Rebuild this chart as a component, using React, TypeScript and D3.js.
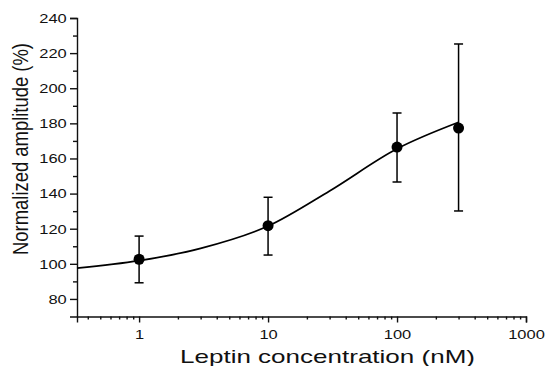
import { useEffect, useRef } from "react"
import * as d3 from "d3"

// measured points (mean, SEM bounds)
const concentrations = [1, 10, 100, 300]
const amplitudes = [102.6, 121.7, 166.5, 177.3]
const errLow = [89.2, 105, 146.6, 130.1]
const errHigh = [115.8, 137.9, 185.9, 225.2]

// fitted curve
const fitConc = [0.33, 1, 3, 10, 30, 100, 300]
const fitAmp = [97.5, 101.8, 108.8, 121.5, 141.5, 165.5, 180.6]

const yMajor = [80, 100, 120, 140, 160, 180, 200, 220, 240]
const yMinor = [90, 110, 130, 150, 170, 190, 210, 230]
const xMajor = [1, 10, 100, 1000]
const xMinor = [0.4, 0.5, 0.6, 0.7, 0.8, 0.9, 2, 3, 4, 5, 6, 7, 8, 9, 20, 30, 40, 50, 60, 70, 80, 90, 200, 300, 400, 500, 600, 700, 800, 900]

const FONT = "'Liberation Sans', Arial, Helvetica, sans-serif"
const STRETCH = 1.22

export default function App() {
  const svgRef = useRef<SVGSVGElement>(null)

  useEffect(() => {
    if (!svgRef.current) return
    const svg = d3.select(svgRef.current)
    svg.selectAll("*").remove()

    const x = d3.scaleLog().domain([0.33, 1000]).range([77, 526])
    const y = d3.scaleLinear().domain([70, 240]).range([316.5, 18])

    // Y axis
    const yAxis = svg.append("g").attr("transform", `translate(${x.range()[0]},0)`)
    yAxis
      .call(d3.axisLeft(y).tickValues(yMinor).tickSize(4).tickFormat(() => ""))
      .call((g) => g.select(".domain").remove())
    const yMaj = svg.append("g").attr("transform", `translate(${x.range()[0]},0)`)
    yMaj.call(d3.axisLeft(y).tickValues(yMajor).tickSizeOuter(0).tickSize(7).tickFormat(d3.format("d")))
    yMaj
      .selectAll("text")
      .attr("x", -10.3 / STRETCH)
      .attr("transform", `scale(${STRETCH},1)`)
      .style("font-size", "13.5px")
      .style("font-family", FONT)
      .attr("fill", "#111")

    // X axis
    const xMin = svg.append("g").attr("transform", `translate(0,${y.range()[0]})`)
    xMin
      .call(d3.axisBottom(x).tickValues(xMinor).tickSize(3).tickFormat(() => ""))
      .call((g) => g.select(".domain").remove())
    const xMaj = svg.append("g").attr("transform", `translate(0,${y.range()[0]})`)
    xMaj.call(d3.axisBottom(x).tickValues(xMajor).tickSizeOuter(0).tickSize(6).tickFormat(d3.format("d")))
    xMaj
      .selectAll("text")
      .attr("y", 22.5)
      .attr("dy", 0)
      .attr("transform", `scale(${STRETCH},1)`)
      .style("font-size", "13.5px")
      .style("font-family", FONT)
      .attr("fill", "#111")
    // scaling text moves its tick-relative x, so re-center each label
    xMaj.selectAll<SVGGElement, number>(".tick").each(function () {
      d3.select(this).select("text").attr("transform", `scale(${STRETCH},1)`)
    })

    svg.selectAll(".domain, .tick line").attr("stroke", "#111").attr("stroke-width", 1.4)

    // fitted curve
    const line = d3
      .line<number>()
      .x((_, i) => x(fitConc[i]))
      .y((d) => y(d))
      .curve(d3.curveMonotoneX)
    svg
      .append("path")
      .attr("d", line(fitAmp))
      .attr("fill", "none")
      .attr("stroke", "#000")
      .attr("stroke-width", 1.7)

    // error bars
    const cap = 4.5
    const bars = svg.append("g").attr("stroke", "#000").attr("stroke-width", 1.5)
    concentrations.forEach((c, i) => {
      const cx = x(c)
      bars.append("line").attr("x1", cx).attr("x2", cx).attr("y1", y(errLow[i])).attr("y2", y(errHigh[i]))
      bars.append("line").attr("x1", cx - cap).attr("x2", cx + cap).attr("y1", y(errLow[i])).attr("y2", y(errLow[i]))
      bars.append("line").attr("x1", cx - cap).attr("x2", cx + cap).attr("y1", y(errHigh[i])).attr("y2", y(errHigh[i]))
    })

    // points
    svg
      .append("g")
      .selectAll("circle")
      .data(amplitudes)
      .enter()
      .append("circle")
      .attr("cx", (_, i) => x(concentrations[i]))
      .attr("cy", (d) => y(d))
      .attr("r", 5.5)
      .attr("fill", "#000")

    // titles
    svg
      .append("text")
      .attr("x", 327.5)
      .attr("y", 363)
      .attr("text-anchor", "middle")
      .attr("textLength", 295)
      .attr("lengthAdjust", "spacingAndGlyphs")
      .style("font-size", "19px")
      .style("font-family", FONT)
      .attr("fill", "#111")
      .text("Leptin concentration (nM)")

    svg
      .append("text")
      .attr("transform", `translate(27.5,149) scale(${STRETCH},1) rotate(-90)`)
      .attr("text-anchor", "middle")
      .attr("textLength", 212)
      .attr("lengthAdjust", "spacingAndGlyphs")
      .style("font-size", "18px")
      .style("font-family", FONT)
      .attr("fill", "#111")
      .text("Normalized amplitude (%)")
  }, [])

  return (
    <svg
      ref={svgRef}
      width={548}
      height={366}
      style={{ position: "absolute", left: 0, top: 0, background: "#fff" }}
    />
  )
}
